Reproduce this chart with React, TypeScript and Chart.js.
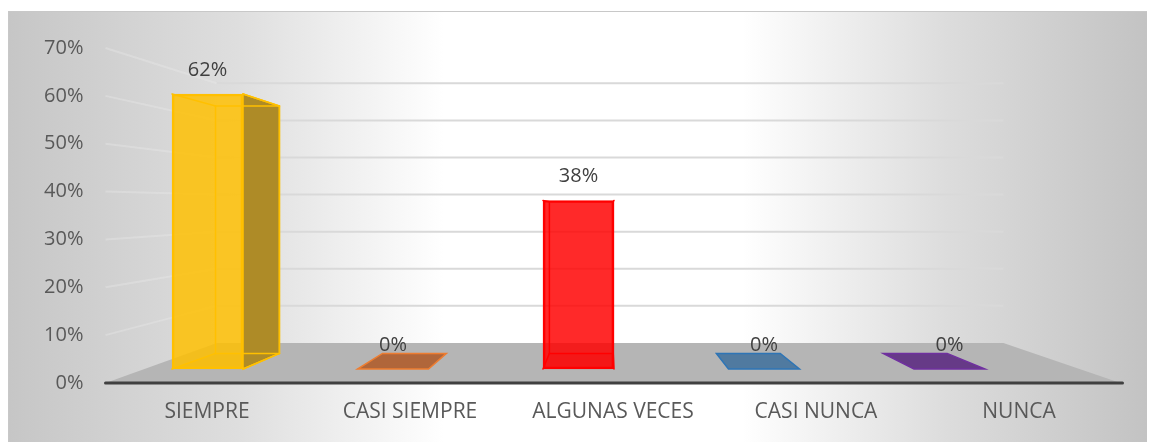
import React, { useEffect, useRef } from "react";
import { Chart, registerables } from "chart.js";

Chart.register(...registerables);

const categories = ["SIEMPRE", "CASI SIEMPRE", "ALGUNAS VECES", "CASI NUNCA", "NUNCA"];
const values = [62, 0, 38, 0, 0];
const yTickValues = [0, 10, 20, 30, 40, 50, 60, 70];

const frontColors = [
  "rgba(255,192,0,0.84)",
  "rgba(237,125,49,0.85)",
  "rgba(255,0,0,0.84)",
  "rgba(68,114,196,0.85)",
  "rgba(112,48,160,0.85)",
];
const borderColors = ["#FFC000", "#ED7D31", "#FF0000", "#2E75B6", "#7030A0"];
const sideColors = ["#AE8B27", "#A35A25", "#B81515", "#365C8E", "#52246F"];
const plateColors = ["#B8951F", "#B0663A", "#D42020", "#507AA0", "#663A87"];
const bottomFaceColors = [
  "rgba(200,150,0,0.25)",
  "rgba(200,100,40,0.3)",
  "rgba(200,0,0,0.2)",
  "rgba(50,90,150,0.3)",
  "rgba(90,40,130,0.3)",
];

const W = 1147;
const H = 431;

type P = { x: number; y: number };
const proj = (p: P, v: P, k: number): P => ({ x: p.x + k * (v.x - p.x), y: p.y + k * (v.y - p.y) });

const FLOOR_V = { x: 592, y: 194 };
const FLOOR_K = 0.225;
const BAR_V = { x: 599, y: 202 };
const BAR_K = 0.1;
const FONT = "'Open Sans', sans-serif";

const scenePlugin = {
  id: "scene3d",
  beforeDraw(chart: any) {
    const ctx = chart.ctx;
    ctx.save();
    const g = ctx.createLinearGradient(0, 0, W, 0);
    g.addColorStop(0, "#c6c6c6");
    g.addColorStop(0.2, "#dedede");
    g.addColorStop(0.38, "#ffffff");
    g.addColorStop(0.64, "#ffffff");
    g.addColorStop(0.82, "#dcdcdc");
    g.addColorStop(1, "#c2c2c2");
    ctx.fillStyle = g;
    ctx.fillRect(0, 0, W, H);
    ctx.strokeStyle = "#c8c8c8";
    ctx.lineWidth = 1;
    ctx.strokeRect(0.5, 0.5, W + 5, H + 5);
    ctx.restore();
  },
  beforeDatasetsDraw(chart: any) {
    const ctx = chart.ctx;
    const ys = chart.scales.y;
    const { left, right } = chart.chartArea;
    ctx.save();
    const y0 = ys.getPixelForValue(0);
    const fl = { x: left, y: y0 };
    const fr = { x: right, y: y0 };
    const bl = proj(fl, FLOOR_V, FLOOR_K);
    const br = proj(fr, FLOOR_V, FLOOR_K);
    ctx.fillStyle = "#b5b5b5";
    ctx.beginPath();
    ctx.moveTo(fl.x, fl.y);
    ctx.lineTo(fr.x, fr.y);
    ctx.lineTo(br.x, br.y);
    ctx.lineTo(bl.x, bl.y);
    ctx.closePath();
    ctx.fill();
    yTickValues.forEach((v) => {
      if (v === 0) return;
      const yf = ys.getPixelForValue(v);
      const a = { x: left, y: yf };
      const b = proj(a, FLOOR_V, FLOOR_K);
      const c = proj({ x: right, y: yf }, FLOOR_V, FLOOR_K);
      ctx.lineWidth = 2;
      ctx.strokeStyle = "rgba(235,235,235,0.35)";
      ctx.beginPath();
      ctx.moveTo(a.x, a.y);
      ctx.lineTo(b.x, b.y);
      ctx.stroke();
      ctx.strokeStyle = "#d9d9d9";
      ctx.beginPath();
      ctx.moveTo(b.x, b.y);
      ctx.lineTo(c.x, c.y);
      ctx.stroke();
    });
    ctx.strokeStyle = "#404040";
    ctx.lineWidth = 3;
    ctx.lineCap = "round";
    ctx.beginPath();
    ctx.moveTo(left, y0);
    ctx.lineTo(right + 2, y0);
    ctx.stroke();

    const meta = chart.getDatasetMeta(0);
    meta.data.forEach((bar: any, i: number) => {
      const { x, y, base, width } = bar.getProps(["x", "y", "base", "width"], true);
      const xl = x - width / 2;
      const xr = x + width / 2;
      const ftl = { x: xl, y }, ftr = { x: xr, y }, fbl = { x: xl, y: base }, fbr = { x: xr, y: base };
      const btl = proj(ftl, BAR_V, BAR_K), btr = proj(ftr, BAR_V, BAR_K);
      const bbl = proj(fbl, BAR_V, BAR_K), bbr = proj(fbr, BAR_V, BAR_K);
      const quad = (pts: P[], fill: string, stroke?: string) => {
        ctx.beginPath();
        ctx.moveTo(pts[0].x, pts[0].y);
        for (let j = 1; j < pts.length; j++) ctx.lineTo(pts[j].x, pts[j].y);
        ctx.closePath();
        ctx.fillStyle = fill;
        ctx.fill();
        if (stroke) {
          ctx.strokeStyle = stroke;
          ctx.lineWidth = 1.5;
          ctx.stroke();
        }
      };
      const h = Math.abs(base - y);
      if (h <= 0.5) {
        quad([fbl, fbr, bbr, bbl], plateColors[i], borderColors[i]);
        return;
      }
      quad([fbl, fbr, bbr, bbl], bottomFaceColors[i]);
      if (bbr.x > fbr.x + 0.5) quad([ftr, btr, bbr, fbr], sideColors[i], borderColors[i]);
      if (bbl.x < fbl.x - 0.5) quad([ftl, btl, bbl, fbl], sideColors[i], borderColors[i]);
      ctx.strokeStyle = borderColors[i];
      ctx.lineWidth = 1.5;
      const edges: [P, P][] = [
        [ftl, btl], [ftr, btr], [fbl, bbl], [fbr, bbr],
        [btl, btr], [bbl, bbr], [btl, bbl], [btr, bbr],
      ];
      edges.forEach(([p, q]) => {
        ctx.beginPath();
        ctx.moveTo(p.x, p.y);
        ctx.lineTo(q.x, q.y);
        ctx.stroke();
      });
    });
    ctx.restore();
  },
  afterDatasetsDraw(chart: any) {
    const ctx = chart.ctx;
    const meta = chart.getDatasetMeta(0);
    ctx.save();
    ctx.fillStyle = "#404040";
    ctx.font = `20px ${FONT}`;
    ctx.textAlign = "center";
    ctx.textBaseline = "middle";
    meta.data.forEach((bar: any, i: number) => {
      const { x, y } = bar.getProps(["x", "y"], true);
      ctx.fillText(`${values[i]}%`, x, y - 24);
    });
    ctx.restore();
  },
};

export default function App() {
  const ref = useRef<HTMLCanvasElement | null>(null);
  useEffect(() => {
    if (!ref.current) return;
    const chart = new Chart(ref.current, {
      type: "bar",
      data: {
        labels: categories,
        datasets: [
          {
            data: values.map((v, i) => ({ x: i, y: v })) as any,
            xAxisID: "xb",
            yAxisID: "yb",
            backgroundColor: frontColors,
            borderColor: borderColors,
            borderWidth: 2,
            borderSkipped: false,
            barThickness: 71,
          },
        ],
      },
      options: {
        responsive: false,
        animation: false,
        devicePixelRatio: 1,
        layout: { padding: { left: 0, right: 34.5, top: 37, bottom: 0 } },
        plugins: { legend: { display: false }, tooltip: { enabled: false } },
        scales: {
          x: {
            type: "category",
            position: "bottom",
            grid: { display: false },
            border: { display: false },
            ticks: { color: "#595959", font: { size: 21, family: FONT }, padding: 8, maxRotation: 0 },
            afterFit: (s: any) => { s.height = 59; },
          },
          y: {
            type: "linear",
            position: "left",
            min: 0,
            max: 70,
            afterBuildTicks: (s: any) => { s.ticks = yTickValues.map((v) => ({ value: v })); },
            grid: { display: false },
            border: { display: false },
            ticks: {
              color: "#595959",
              font: { size: 20, family: FONT },
              padding: 14,
              callback: (v: any) => `${v}%`,
            },
            afterFit: (s: any) => { s.width = 97.5; },
          },
          xb: { type: "linear", display: false, min: -0.55, max: 4.922, offset: false },
          yb: { type: "linear", display: false, min: -3.157, max: 72.38 },
        },
      } as any,
      plugins: [scenePlugin],
    });
    return () => chart.destroy();
  }, []);
  return (
    <div style={{ paddingTop: 3 }}>
      <canvas ref={ref} width={W} height={H} style={{ display: "block" }} />
    </div>
  );
}
